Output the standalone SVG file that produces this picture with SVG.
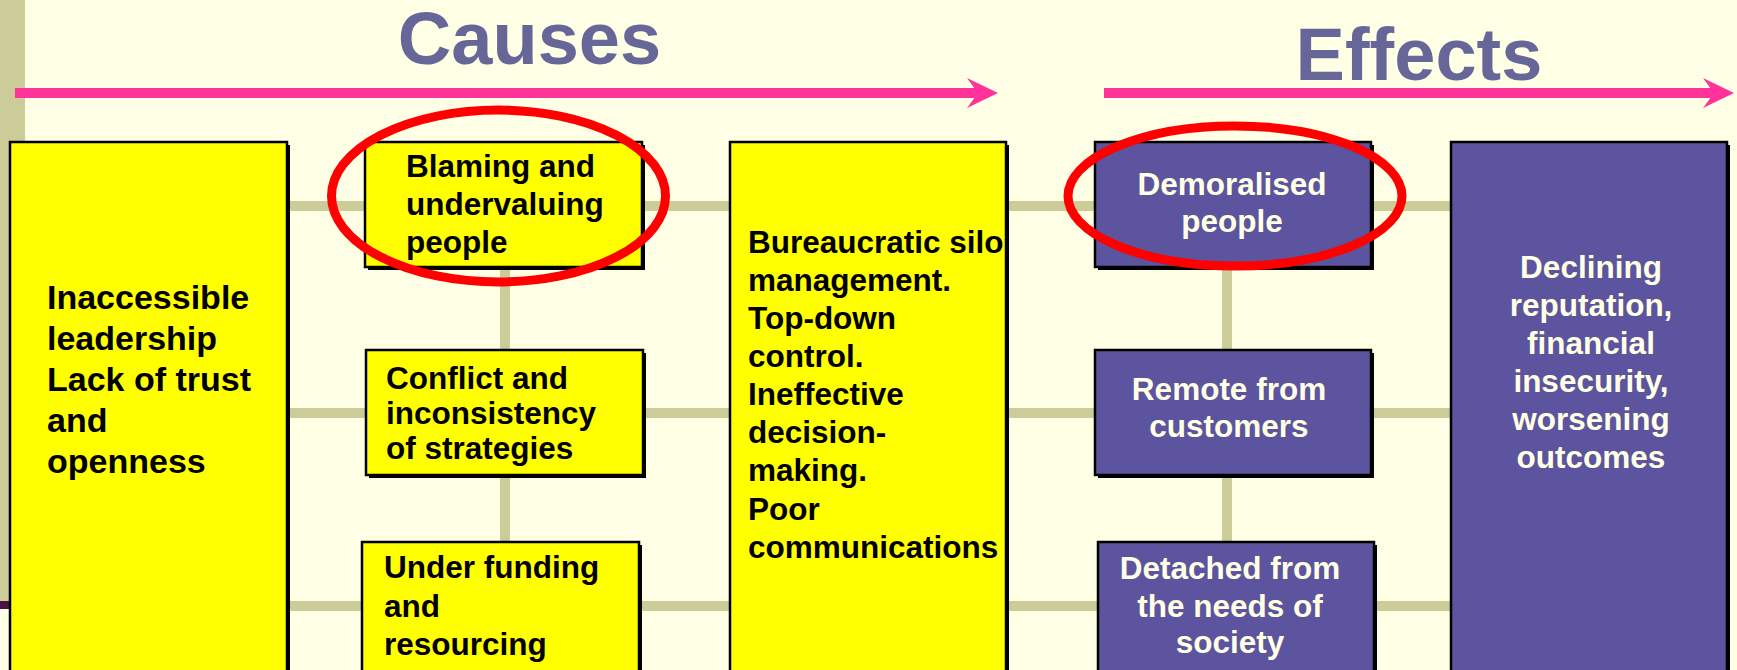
<svg xmlns="http://www.w3.org/2000/svg" width="1737" height="670" viewBox="0 0 1737 670">
<defs>
<style>
.bg{fill:#FFFFE5}
.conn{stroke:#CCCC99;stroke-width:10;fill:none}
.shadow{fill:#000}
.yel{fill:#FFFF00;stroke:#000;stroke-width:2.5}
.pur{fill:#5C549E;stroke:#000;stroke-width:2.5}
.t{font-family:"Liberation Sans",Arial,sans-serif;font-weight:bold;font-size:31.5px}
.tb{fill:#000}
.tw{fill:#FFFFE5;text-anchor:middle}
.big{font-size:34px}
.title{font-family:"Liberation Sans",Arial,sans-serif;font-weight:bold;font-size:74px;fill:#666699;text-anchor:middle}
.pink{stroke:#FF3399;stroke-width:10;fill:none}
.pinkhead{fill:#FF3399}
.ring{fill:none;stroke:#FF0000;stroke-width:9}
</style>
</defs>
<rect class="bg" x="0" y="0" width="1737" height="670"/>
<rect x="0" y="0" width="25" height="601" fill="#CCCC99"/>
<rect x="0" y="601" width="10" height="8" fill="#4D1040"/>

<g id="titles">
<text class="title" x="529.5" y="64">Causes</text>
<text class="title" x="1419" y="80">Effects</text>
</g>

<g id="arrows">
<line class="pink" x1="15" y1="93" x2="980" y2="93"/>
<polygon class="pinkhead" points="967,78 998,93 967,108 978,93"/>
<line class="pink" x1="1104" y1="93" x2="1716" y2="93"/>
<polygon class="pinkhead" points="1703,78 1734,93 1703,108 1714,93"/>
</g>

<g id="connectors">
<line class="conn" x1="285" y1="206" x2="1455" y2="206"/>
<line class="conn" x1="285" y1="413" x2="1455" y2="413"/>
<line class="conn" x1="285" y1="606" x2="1455" y2="606"/>
<line class="conn" x1="505" y1="265" x2="505" y2="545"/>
<line class="conn" x1="1227" y1="265" x2="1227" y2="545"/>
</g>

<g id="n-leadership">
<rect class="shadow" x="13" y="145" width="277" height="540"/>
<rect class="yel" x="10" y="142" width="277" height="540"/>
<text class="t tb big"><tspan x="47" y="309">Inaccessible</tspan><tspan x="47" y="350">leadership</tspan><tspan x="47" y="391">Lack of trust</tspan><tspan x="47" y="432">and</tspan><tspan x="47" y="473">openness</tspan></text>
</g>

<g id="n-blaming">
<rect class="shadow" x="368" y="145" width="277" height="125"/>
<rect class="yel" x="365" y="142" width="277" height="125"/>
<text class="t tb"><tspan x="406" y="177">Blaming and</tspan><tspan x="406" y="215">undervaluing</tspan><tspan x="406" y="253">people</tspan></text>
</g>

<g id="n-conflict">
<rect class="shadow" x="369" y="353" width="277" height="125"/>
<rect class="yel" x="366" y="350" width="277" height="125"/>
<text class="t tb"><tspan x="386" y="389">Conflict and</tspan><tspan x="386" y="424">inconsistency</tspan><tspan x="386" y="459">of strategies</tspan></text>
</g>

<g id="n-funding">
<rect class="shadow" x="365" y="545" width="277" height="140"/>
<rect class="yel" x="362" y="542" width="277" height="140"/>
<text class="t tb"><tspan x="384" y="578">Under funding</tspan><tspan x="384" y="617">and</tspan><tspan x="384" y="655">resourcing</tspan></text>
</g>

<g id="n-bureaucratic">
<rect class="shadow" x="733" y="145" width="276" height="540"/>
<rect class="yel" x="730" y="142" width="276" height="540"/>
<text class="t tb"><tspan x="748" y="253">Bureaucratic silo</tspan><tspan x="748" y="291">management.</tspan><tspan x="748" y="329">Top-down</tspan><tspan x="748" y="367">control.</tspan><tspan x="748" y="405">Ineffective</tspan><tspan x="748" y="443">decision-</tspan><tspan x="748" y="481">making.</tspan><tspan x="748" y="520">Poor</tspan><tspan x="748" y="558">communications</tspan></text>
</g>

<g id="n-demoralised">
<rect class="shadow" x="1098" y="145" width="276" height="125"/>
<rect class="pur" x="1095" y="142" width="276" height="125"/>
<text class="t tw"><tspan x="1232" y="195">Demoralised</tspan><tspan x="1232" y="232">people</tspan></text>
</g>

<g id="n-remote">
<rect class="shadow" x="1098" y="353" width="276" height="125"/>
<rect class="pur" x="1095" y="350" width="276" height="125"/>
<text class="t tw"><tspan x="1229" y="400">Remote from</tspan><tspan x="1229" y="437">customers</tspan></text>
</g>

<g id="n-detached">
<rect class="shadow" x="1101" y="545" width="276" height="140"/>
<rect class="pur" x="1098" y="542" width="276" height="140"/>
<text class="t tw"><tspan x="1230" y="579">Detached from</tspan><tspan x="1230" y="617">the needs of</tspan><tspan x="1230" y="653">society</tspan></text>
</g>

<g id="n-declining">
<rect class="shadow" x="1454" y="145" width="276" height="540"/>
<rect class="pur" x="1451" y="142" width="276" height="540"/>
<text class="t tw"><tspan x="1591" y="278">Declining</tspan><tspan x="1591" y="316">reputation,</tspan><tspan x="1591" y="354">financial</tspan><tspan x="1591" y="392">insecurity,</tspan><tspan x="1591" y="430">worsening</tspan><tspan x="1591" y="468">outcomes</tspan></text>
</g>

<g id="highlights">
<ellipse class="ring" cx="498.5" cy="196" rx="167" ry="86"/>
<ellipse class="ring" cx="1235" cy="196" rx="167" ry="70"/>
</g>
</svg>
